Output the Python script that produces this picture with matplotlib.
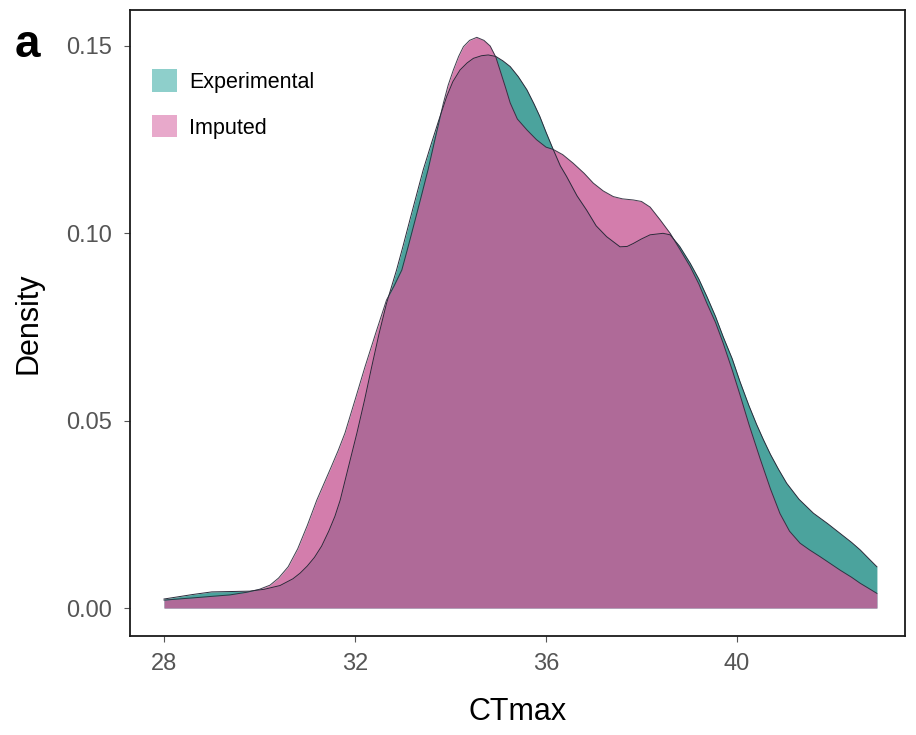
import matplotlib
matplotlib.use("Agg")
import matplotlib.pyplot as plt
from matplotlib.patches import Patch

plt.rcParams['font.family'] = ['Liberation Sans', 'DejaVu Sans']

# Experimental (teal) density curve
exp_x = [28.00, 28.30, 28.60, 29.00, 29.40, 29.80, 30.10, 30.43, 30.70, 30.85, 31.00,
         31.15, 31.30, 31.45, 31.58, 31.69, 31.85, 32.04, 32.20, 32.35, 32.50, 32.66,
         32.87, 33.00, 33.15, 33.30, 33.43, 33.60, 33.75, 33.92, 34.05, 34.20, 34.35,
         34.48, 34.65, 34.79, 34.95, 35.10, 35.25, 35.42, 35.60, 35.75, 35.87, 36.00,
         36.15, 36.30, 36.43, 36.65, 36.85, 37.05, 37.27, 37.55, 37.70, 37.83, 38.00,
         38.18, 38.45, 38.60, 38.80, 39.02, 39.20, 39.37, 39.55, 39.71, 39.90, 40.06,
         40.25, 40.41, 40.55, 40.70, 40.87, 41.04, 41.30, 41.60, 41.90, 42.16, 42.40,
         42.58, 42.75, 42.93]
exp_y = [0.0024, 0.0030, 0.0036, 0.0043, 0.0044, 0.0045, 0.0050, 0.0060, 0.0078, 0.0093, 0.0112,
         0.0135, 0.0165, 0.0205, 0.0245, 0.0288, 0.0370, 0.0467, 0.0555, 0.0644, 0.0730, 0.0813,
         0.0902, 0.0963, 0.1036, 0.1108, 0.1170, 0.1240, 0.1300, 0.1365, 0.1405, 0.1436, 0.1455,
         0.1467, 0.1474, 0.1476, 0.1472, 0.1460, 0.1445, 0.1418, 0.1383, 0.1345, 0.1312, 0.1270,
         0.1224, 0.1180, 0.1152, 0.1100, 0.1062, 0.1020, 0.0991, 0.0964, 0.0965, 0.0973, 0.0985,
         0.0996, 0.1000, 0.0996, 0.0965, 0.0920, 0.0878, 0.0831, 0.0778, 0.0724, 0.0665, 0.0605,
         0.0540, 0.0490, 0.0450, 0.0410, 0.0370, 0.0333, 0.0290, 0.0253, 0.0225, 0.0199, 0.0175,
         0.0155, 0.0133, 0.0110]

# Imputed (pink) density curve
imp_x = [28.00, 28.70, 29.38, 29.73, 30.00, 30.22, 30.40, 30.60, 30.80, 31.00, 31.20,
         31.35, 31.50, 31.65, 31.79, 32.00, 32.21, 32.45, 32.66, 32.82, 32.98, 33.12,
         33.26, 33.40, 33.53, 33.70, 33.85, 33.95, 34.06, 34.17, 34.27, 34.40, 34.55,
         34.70, 34.83, 34.95, 35.05, 35.15, 35.25, 35.40, 35.60, 35.80, 36.00, 36.15,
         36.35, 36.57, 36.80, 36.99, 37.20, 37.41, 37.60, 37.83, 38.00, 38.18, 38.39,
         38.60, 38.80, 39.02, 39.20, 39.37, 39.55, 39.71, 39.90, 40.06, 40.25, 40.48,
         40.70, 40.90, 41.10, 41.32, 41.52, 41.74, 41.95, 42.16, 42.40, 42.58, 42.75,
         42.93]
imp_y = [0.0021, 0.0028, 0.0035, 0.0042, 0.0050, 0.0061, 0.0080, 0.0110, 0.0158, 0.0220, 0.0288,
         0.0332, 0.0376, 0.0421, 0.0467, 0.0555, 0.0644, 0.0740, 0.0822, 0.0860, 0.0902, 0.0968,
         0.1036, 0.1105, 0.1170, 0.1265, 0.1347, 0.1395, 0.1436, 0.1472, 0.1498, 0.1515, 0.1523,
         0.1515, 0.1500, 0.1470, 0.1430, 0.1390, 0.1348, 0.1305, 0.1276, 0.1250, 0.1230, 0.1224,
         0.1210, 0.1187, 0.1160, 0.1134, 0.1113, 0.1098, 0.1092, 0.1089, 0.1085, 0.1070, 0.1036,
         0.1000, 0.0958, 0.0911, 0.0865, 0.0813, 0.0762, 0.0707, 0.0635, 0.0570, 0.0490, 0.0400,
         0.0318, 0.0252, 0.0205, 0.0173, 0.0155, 0.0137, 0.0119, 0.0101, 0.0082, 0.0066, 0.0053,
         0.0039]

labels = ["Experimental", "Imputed"]
x_ticks = [28, 32, 36, 40]
y_ticks = [0.00, 0.05, 0.10, 0.15]
y_tick_labels = ["0.00", "0.05", "0.10", "0.15"]

teal = "#4BA39D"
pink = "#C95C97"
line_col = "#2a2a3a"

fig = plt.figure(figsize=(9.16, 7.35), dpi=100)
ax = fig.add_axes([130/916, 1-636/735, 775/916, 626/735])

ax.fill_between(exp_x, 0, exp_y, color=teal, alpha=1.0, linewidth=0)
ax.plot(exp_x, exp_y, color=line_col, lw=0.7)
ax.fill_between(imp_x, 0, imp_y, color=pink, alpha=0.8, linewidth=0)
ax.plot(imp_x, imp_y, color=line_col, lw=0.7, alpha=0.9)

ax.set_xlim(27.288, 43.518)
ax.set_ylim(-0.00747, 0.1596)
ax.set_xticks(x_ticks)
ax.set_xticklabels([str(t) for t in x_ticks])
ax.set_yticks(y_ticks)
ax.set_yticklabels(y_tick_labels)
ax.tick_params(axis='both', labelsize=17, colors='#555555', length=4, width=0.8, direction='out')
ax.tick_params(axis='x', pad=8)
ax.tick_params(axis='y', pad=9)
for s in ax.spines.values():
    s.set_linewidth(1.3)
    s.set_color('#1a1a1a')

ax.set_xlabel("CTmax", fontsize=22, labelpad=16, color='black')
ax.set_ylabel("Density", fontsize=22, labelpad=16, color='black')

handles = [Patch(facecolor="#8ECFCB", edgecolor='none'),
           Patch(facecolor="#E8A9CB", edgecolor='none')]
ax.legend(handles, labels, loc='upper left', bbox_to_anchor=(0.029, 0.905),
          frameon=False, fontsize=15.5, handlelength=1.15, handleheight=1.2,
          handletextpad=0.55, labelspacing=1.05, borderpad=0, borderaxespad=0)

fig.text(27/916, 1-45/735, "a", fontsize=33, fontweight='bold', ha='center', va='center')

fig.savefig("out.png", dpi=100)
